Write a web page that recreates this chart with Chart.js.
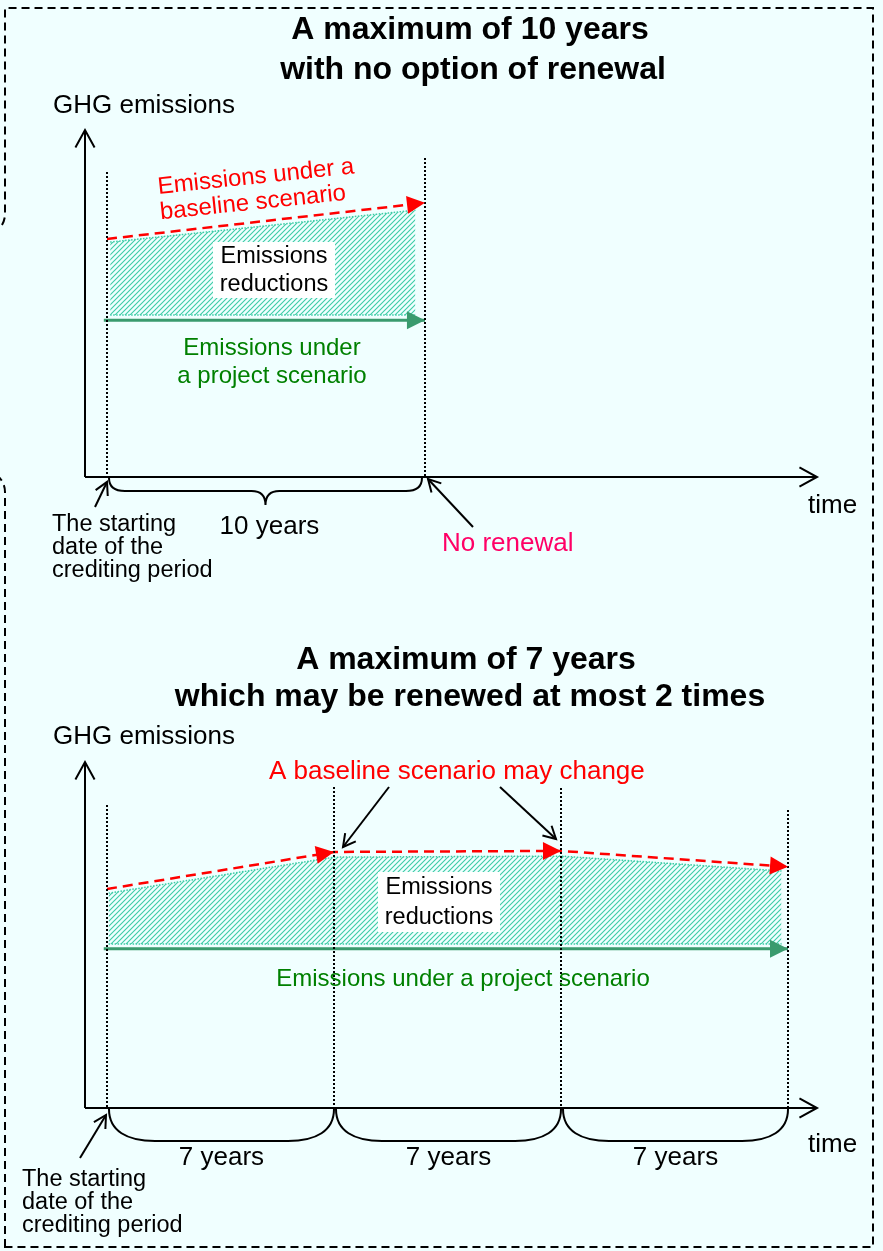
<!DOCTYPE html>
<html>
<head>
<meta charset="utf-8">
<script src="https://cdn.jsdelivr.net/npm/chart.js@4.4.1/dist/chart.umd.min.js"></script>
<style>
    html, body { margin: 0; padding: 0; background: #f0ffff; }
    body { width: 883px; height: 1251px; position: relative; overflow: hidden; }
    #frame { position: absolute; left: 0; top: 0; }
    canvas { position: absolute; left: 0; }
    #topChart { top: 0; }
    #bottomChart { top: 620px; }
</style>
</head>
<body>
<svg id="frame" width="883" height="1251">
    <path d="M5,1247 L5,492 Q5,482 -4,474 L-4,232 Q5,224 5,214 L5,8 L873,8 L873,1247 Z"
          fill="none" stroke="#000" stroke-width="2" stroke-dasharray="8 5"/>
</svg>
<canvas id="topChart" width="883" height="620"></canvas>
<canvas id="bottomChart" width="883" height="631"></canvas>
<script>
// ---- top panel: one 10 year period, no renewal ----
const topYears = [0, 10];
const topBaseline = [68.6, 79.0];
const topProjectYears = [-0.1, 10];
const topProject = [45.2, 45.2];
const topHatchYears = [0.1, 9.7];
const topHatchTop = [67.7, 76.9];
const topHatchBottom = [46.7, 46.7];
const topMarkerTops = [87.9, 91.9];
const topPeriodLabels = ["10 years"];

// ---- bottom panel: 7 years, renewed twice ----
const bottomYears = [0, 7, 14, 21];
const bottomBaseline = [63.3, 74.0, 74.3, 69.7];
const bottomProjectYears = [-0.1, 21];
const bottomProject = [46.0, 46.0];
const bottomHatchYears = [0.05, 7, 14, 20.8];
const bottomHatchTop = [62.1, 72.5, 72.8, 68.5];
const bottomHatchBottom = [47.4, 47.4, 47.4, 47.4];
const bottomMarkerTops = [87.6, 92.8, 92.5, 86.1];
const bottomPeriodLabels = ["7 years", "7 years", "7 years"];

const FONT = "'Liberation Sans', Arial, sans-serif";
const RED = "#ff0000";
const GREEN_LINE = "#3a9b6e";
const GREEN_TEXT = "#008000";
const HATCH = "#3ccca6";

function makeHatch() {
    const c = document.createElement("canvas");
    c.width = 5;
    c.height = 5;
    const g = c.getContext("2d");
    g.strokeStyle = HATCH;
    g.lineWidth = 1.1;
    g.beginPath();
    g.moveTo(0, 5); g.lineTo(5, 0);
    g.moveTo(-1, 1); g.lineTo(1, -1);
    g.moveTo(4, 6); g.lineTo(6, 4);
    g.stroke();
    return g.createPattern(c, "repeat");
}

function pts(xs, ys) {
    return xs.map((x, i) => ({ x: x, y: ys[i] }));
}

function openArrow(ctx, x1, y1, x2, y2, len, spread) {
    ctx.beginPath();
    ctx.moveTo(x1, y1);
    ctx.lineTo(x2, y2);
    ctx.stroke();
    const a = Math.atan2(y2 - y1, x2 - x1);
    ctx.beginPath();
    ctx.moveTo(x2 - len * Math.cos(a - spread), y2 - len * Math.sin(a - spread));
    ctx.lineTo(x2, y2);
    ctx.lineTo(x2 - len * Math.cos(a + spread), y2 - len * Math.sin(a + spread));
    ctx.stroke();
}

function solidHead(ctx, x, y, a, color) {
    const len = 18, half = 9;
    const bx = x - len * Math.cos(a), by = y - len * Math.sin(a);
    ctx.fillStyle = color;
    ctx.beginPath();
    ctx.moveTo(x, y);
    ctx.lineTo(bx + half * Math.sin(a), by - half * Math.cos(a));
    ctx.lineTo(bx - half * Math.sin(a), by + half * Math.cos(a));
    ctx.closePath();
    ctx.fill();
}

function drawText(ctx, t, oy) {
    ctx.save();
    ctx.font = (t.bold ? "bold " : "") + t.size + "px " + FONT;
    ctx.fillStyle = t.color || "#000";
    ctx.textAlign = t.align || "left";
    ctx.textBaseline = "middle";
    ctx.translate(t.x, t.y - oy);
    if (t.rotate) ctx.rotate(t.rotate * Math.PI / 180);
    ctx.fillText(t.text, 0, 0);
    ctx.restore();
}

function panelPlugin(p) {
    return {
        id: "panelDecor",
        afterDatasetsDraw(chart) {
            const ctx = chart.ctx;
            const xs = chart.scales.x;
            const ys = chart.scales.y;
            const area = chart.chartArea;
            const oy = p.offsetY;
            ctx.save();

            // dotted period markers
            ctx.strokeStyle = "#000";
            ctx.lineWidth = 2;
            ctx.setLineDash([2, 2]);
            p.years.forEach((yr, i) => {
                const px = Math.round(xs.getPixelForValue(yr));
                ctx.beginPath();
                ctx.moveTo(px, Math.round(ys.getPixelForValue(p.markerTops[i])));
                ctx.lineTo(px, area.bottom);
                ctx.stroke();
            });
            ctx.setLineDash([]);

            // arrow heads on the baseline
            for (let i = 1; i < p.years.length; i++) {
                const x0 = xs.getPixelForValue(p.years[i - 1]), y0 = ys.getPixelForValue(p.baseline[i - 1]);
                const x1 = xs.getPixelForValue(p.years[i]), y1 = ys.getPixelForValue(p.baseline[i]);
                solidHead(ctx, x1, y1, Math.atan2(y1 - y0, x1 - x0), RED);
            }
            // arrow head on the project line
            const pe = p.projectYears.length - 1;
            solidHead(ctx, xs.getPixelForValue(p.projectYears[pe]), ys.getPixelForValue(p.project[pe]), 0, GREEN_LINE);

            // white label box
            ctx.fillStyle = "#fff";
            ctx.fillRect(p.box[0], p.box[1] - oy, p.box[2], p.box[3]);

            // axes
            ctx.strokeStyle = "#000";
            ctx.lineWidth = 2;
            openArrow(ctx, area.left, area.bottom, area.left, area.top, 20, 0.5);
            openArrow(ctx, area.left, area.bottom, area.right, area.bottom, 20, 0.5);

            // braces under the time axis
            const by = area.bottom + 1;
            for (let i = 0; i < p.years.length - 1; i++) {
                const a = xs.getPixelForValue(p.years[i]) + 2;
                const b = xs.getPixelForValue(p.years[i + 1]) - (p.pointed ? 3 : 0);
                const mid = (a + b) / 2;
                ctx.beginPath();
                if (p.pointed) {
                    ctx.moveTo(a, by);
                    ctx.quadraticCurveTo(a, by + 13, a + 16, by + 13);
                    ctx.lineTo(mid - 14, by + 13);
                    ctx.quadraticCurveTo(mid, by + 13, mid, by + 27);
                    ctx.quadraticCurveTo(mid, by + 13, mid + 14, by + 13);
                    ctx.lineTo(b - 16, by + 13);
                    ctx.quadraticCurveTo(b, by + 13, b, by);
                } else {
                    ctx.moveTo(a, by);
                    ctx.bezierCurveTo(a, by + 22, a + 18, by + 32, a + 46, by + 32);
                    ctx.lineTo(b - 46, by + 32);
                    ctx.bezierCurveTo(b - 18, by + 32, b, by + 22, b, by);
                }
                ctx.stroke();
                drawText(ctx, { text: p.periodLabels[i], x: mid + p.labelShift, y: p.periodLabelY, size: 26, align: "center" }, oy);
            }

            // pointer arrows
            p.arrows.forEach((a) => {
                openArrow(ctx, a[0], a[1] - oy, a[2], a[3] - oy, 14, 0.5);
            });

            p.texts.forEach((t) => drawText(ctx, t, oy));
            ctx.restore();
        }
    };
}

function buildChart(id, p) {
    const hatch = makeHatch();
    return new Chart(document.getElementById(id), {
        type: "line",
        data: {
            datasets: [
                {
                    label: "Emissions under a baseline scenario",
                    data: pts(p.years, p.baseline),
                    borderColor: RED,
                    borderWidth: 2.5,
                    borderDash: [10, 6],
                    fill: false,
                    order: 1
                },
                {
                    label: "Emissions under a project scenario",
                    data: pts(p.projectYears, p.project),
                    borderColor: GREEN_LINE,
                    borderWidth: 3,
                    fill: false,
                    order: 2
                },
                {
                    label: "Reductions top",
                    data: pts(p.hatchYears, p.hatchTop),
                    borderColor: HATCH,
                    borderWidth: 1.5,
                    borderDash: [1.5, 1.5],
                    fill: false,
                    order: 3
                },
                {
                    label: "Emissions reductions",
                    data: pts(p.hatchYears, p.hatchBottom),
                    borderColor: HATCH,
                    borderWidth: 1.5,
                    borderDash: [1.5, 1.5],
                    backgroundColor: hatch,
                    fill: "-1",
                    order: 3
                }
            ]
        },
        options: {
            responsive: false,
            animation: false,
            layout: { padding: p.padding },
            elements: { point: { radius: 0 }, line: { tension: 0 } },
            plugins: { legend: { display: false }, tooltip: { enabled: false } },
            scales: {
                x: { type: "linear", min: p.xMin, max: p.xMax, display: false },
                y: { min: 0, max: 100, display: false }
            }
        },
        plugins: [panelPlugin(p)]
    });
}

buildChart("topChart", {
    offsetY: 0,
    padding: { left: 85, right: 66, top: 130, bottom: 143 },
    xMin: -0.692,
    xMax: 22.33,
    years: topYears,
    baseline: topBaseline,
    projectYears: topProjectYears,
    project: topProject,
    hatchYears: topHatchYears,
    hatchTop: topHatchTop,
    hatchBottom: topHatchBottom,
    markerTops: topMarkerTops,
    periodLabels: topPeriodLabels,
    periodLabelY: 527,
    labelShift: 4,
    pointed: true,
    box: [213, 242, 122, 56],
    arrows: [[95, 507, 107, 482], [473, 527, 428, 479]],
    texts: [
        { text: "A maximum of 10 years", x: 470, y: 30, size: 32, bold: true, align: "center" },
        { text: "with no option of renewal", x: 473, y: 70, size: 32, bold: true, align: "center" },
        { text: "GHG emissions", x: 53, y: 106, size: 26 },
        { text: "Emissions under a", x: 256, y: 177, size: 24, color: RED, align: "center", rotate: -6 },
        { text: "baseline scenario", x: 253, y: 203, size: 24, color: RED, align: "center", rotate: -6 },
        { text: "Emissions", x: 274, y: 257, size: 23.5, align: "center" },
        { text: "reductions", x: 274, y: 285, size: 23.5, align: "center" },
        { text: "Emissions under", x: 272, y: 348, size: 24, color: GREEN_TEXT, align: "center" },
        { text: "a project scenario", x: 272, y: 376, size: 24, color: GREEN_TEXT, align: "center" },
        { text: "The starting", x: 52, y: 525, size: 23.5 },
        { text: "date of the", x: 52, y: 548, size: 23.5 },
        { text: "crediting period", x: 52, y: 571, size: 23.5 },
        { text: "No renewal", x: 442, y: 544, size: 26, color: "#ff0066" },
        { text: "time", x: 808, y: 506, size: 26 }
    ]
});

buildChart("bottomChart", {
    offsetY: 620,
    padding: { left: 85, right: 66, top: 142, bottom: 143 },
    xMin: -0.678,
    xMax: 21.894,
    years: bottomYears,
    baseline: bottomBaseline,
    projectYears: bottomProjectYears,
    project: bottomProject,
    hatchYears: bottomHatchYears,
    hatchTop: bottomHatchTop,
    hatchBottom: bottomHatchBottom,
    markerTops: bottomMarkerTops,
    periodLabels: bottomPeriodLabels,
    periodLabelY: 1158,
    labelShift: 0,
    pointed: false,
    box: [378, 872, 122, 60],
    arrows: [[80, 1158, 106, 1115], [389, 787, 343, 847], [500, 787, 556, 839]],
    texts: [
        { text: "A maximum of 7 years", x: 466, y: 660, size: 32, bold: true, align: "center" },
        { text: "which may be renewed at most 2 times", x: 470, y: 697, size: 32, bold: true, align: "center" },
        { text: "GHG emissions", x: 53, y: 737, size: 26 },
        { text: "A baseline scenario may change", x: 269, y: 772, size: 26, color: RED },
        { text: "Emissions", x: 439, y: 888, size: 23.5, align: "center" },
        { text: "reductions", x: 439, y: 918, size: 23.5, align: "center" },
        { text: "Emissions under a project scenario", x: 463, y: 979, size: 24, color: GREEN_TEXT, align: "center" },
        { text: "The starting", x: 22, y: 1180, size: 23.5 },
        { text: "date of the", x: 22, y: 1203, size: 23.5 },
        { text: "crediting period", x: 22, y: 1226, size: 23.5 },
        { text: "time", x: 808, y: 1145, size: 26 }
    ]
});
</script>
</body>
</html>
